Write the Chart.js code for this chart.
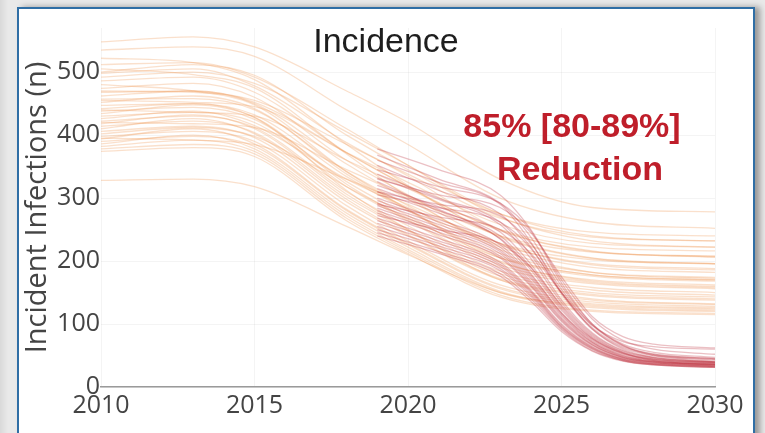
<!DOCTYPE html>
<html>
<head>
<meta charset="utf-8">
<script src="https://cdn.jsdelivr.net/npm/chart.js@4"></script>
<style>
  html, body { margin: 0; padding: 0; }
  body {
    width: 765px; height: 433px; overflow: hidden; position: relative;
    background: linear-gradient(to right, #d9d9d9 0px, #e9e9e9 8px, #e9e9e9 100%);
  }
  #panel {
    position: absolute; left: 17px; top: 7px; width: 734px; height: 440px;
    background: #fff; border: 2px solid #2f6ea5;
    box-shadow: 5px 0 6px rgba(0, 0, 0, 0.35);
  }
  #chart { position: absolute; left: 0; top: 0; }
</style>
</head>
<body>
<div id="panel"></div>
<canvas id="chart" width="765" height="433"></canvas>
<script>
// baseline runs: incidence per year, sampled at these years
const baselineYears = [2010, 2013, 2015, 2018, 2020, 2023, 2026, 2030]
const baselineRuns = [
  [548, 556, 540, 470, 420, 330, 285, 278],
  [535, 540, 525, 440, 385, 300, 262, 252],
  [522, 515, 488, 385, 320, 240, 205, 196],
  [512, 515, 492, 410, 352, 270, 232, 222],
  [505, 496, 475, 370, 302, 218, 182, 172],
  [498, 505, 478, 388, 335, 250, 216, 206],
  [492, 500, 482, 405, 352, 275, 240, 232],
  [486, 492, 468, 372, 318, 238, 204, 195],
  [480, 470, 448, 342, 282, 200, 168, 160],
  [474, 482, 460, 360, 305, 228, 194, 186],
  [468, 470, 450, 354, 298, 222, 190, 182],
  [462, 470, 452, 372, 318, 248, 215, 207],
  [457, 458, 440, 342, 288, 212, 182, 174],
  [452, 462, 442, 338, 282, 208, 178, 170],
  [447, 450, 432, 334, 280, 205, 176, 168],
  [442, 450, 428, 312, 250, 170, 140, 132],
  [438, 444, 425, 326, 272, 198, 170, 162],
  [434, 448, 428, 322, 266, 194, 166, 158],
  [430, 436, 420, 318, 264, 190, 164, 156],
  [426, 438, 415, 330, 285, 225, 196, 188],
  [422, 430, 412, 310, 256, 184, 158, 150],
  [418, 432, 410, 306, 250, 180, 154, 146],
  [414, 422, 404, 302, 248, 176, 150, 143],
  [410, 426, 402, 298, 242, 172, 147, 140],
  [406, 414, 396, 294, 240, 170, 145, 138],
  [402, 412, 398, 318, 268, 205, 178, 170],
  [398, 406, 390, 288, 232, 162, 138, 131],
  [394, 410, 386, 282, 228, 158, 135, 128],
  [390, 398, 382, 280, 226, 156, 132, 126],
  [386, 400, 378, 276, 222, 152, 128, 122],
  [382, 392, 374, 272, 218, 150, 126, 120],
  [378, 385, 370, 268, 215, 146, 122, 117],
  [374, 380, 366, 264, 212, 143, 120, 115],
  [328, 330, 318, 255, 210, 150, 130, 124],
  [470, 468, 455, 385, 338, 268, 238, 232],
  [455, 452, 445, 372, 325, 258, 228, 222],
  [440, 436, 430, 360, 315, 250, 222, 216],
  [420, 418, 412, 345, 302, 240, 214, 208],
  [500, 512, 495, 400, 345, 275, 246, 240],
  [395, 392, 385, 330, 290, 228, 202, 196]
]

// intervention runs, starting in 2019
const interventionYears = [2019, 2021, 2023, 2024, 2025, 2026, 2027, 2028, 2030]
const interventionRuns = [
  [378, 345, 305, 250, 170, 108, 74, 60, 52],
  [368, 330, 292, 238, 160, 100, 68, 55, 47],
  [360, 325, 290, 230, 150, 94, 64, 52, 45],
  [352, 312, 275, 222, 148, 92, 62, 50, 44],
  [345, 318, 292, 248, 165, 100, 66, 50, 43],
  [338, 300, 262, 210, 138, 86, 58, 47, 41],
  [332, 298, 258, 204, 134, 84, 57, 46, 40],
  [326, 282, 235, 180, 118, 76, 53, 44, 39],
  [320, 286, 246, 195, 128, 80, 55, 45, 39],
  [315, 280, 240, 190, 125, 78, 54, 44, 39],
  [310, 276, 236, 186, 122, 77, 53, 43, 38],
  [305, 285, 262, 220, 150, 92, 60, 47, 40],
  [300, 266, 226, 178, 117, 74, 51, 42, 37],
  [296, 262, 222, 175, 115, 72, 50, 41, 37],
  [292, 258, 218, 172, 113, 71, 49, 41, 36],
  [288, 254, 215, 168, 110, 70, 48, 40, 36],
  [284, 250, 212, 165, 108, 68, 47, 40, 35],
  [280, 246, 208, 162, 106, 67, 47, 39, 35],
  [276, 242, 205, 160, 104, 66, 46, 39, 34],
  [272, 250, 228, 190, 130, 82, 55, 42, 36],
  [268, 236, 198, 154, 100, 64, 45, 38, 34],
  [264, 232, 195, 152, 98, 63, 44, 37, 33],
  [260, 228, 192, 150, 96, 62, 44, 37, 33],
  [255, 224, 188, 147, 95, 61, 43, 36, 32],
  [250, 220, 185, 144, 93, 60, 42, 36, 32],
  [245, 215, 180, 140, 91, 58, 42, 35, 31],
  [240, 212, 176, 136, 88, 57, 41, 35, 31],
  [330, 305, 285, 245, 175, 112, 80, 68, 62],
  [290, 270, 250, 212, 150, 98, 72, 64, 60],
  [310, 290, 272, 228, 155, 98, 66, 52, 45]
]

const yTicks = [0, 100, 200, 300, 400, 500]
const xTicks = [2010, 2015, 2020, 2025, 2030]

const tickFont = { family: '"Open Sans", sans-serif', size: 25 }
const gridColor = 'rgba(0, 0, 0, 0.045)'

const toPoints = (years, values) => years.map((x, i) => ({ x, y: values[i] }))

const baseline = baselineRuns.map(run => ({
  data: toPoints(baselineYears, run),
  borderColor: 'rgba(238, 160, 95, 0.32)',
  borderWidth: 1.3,
  order: 1
}))

const intervention = interventionRuns.map(run => ({
  data: toPoints(interventionYears, run),
  borderColor: 'rgba(188, 45, 60, 0.3)',
  borderWidth: 1.3,
  order: 0
}))

// headline and result label
const panelText = {
  id: 'panelText',
  afterDraw(chart) {
    const { ctx } = chart
    ctx.save()
    ctx.textAlign = 'center'
    ctx.textBaseline = 'alphabetic'
    ctx.fillStyle = '#1e1e1e'
    ctx.font = '34px "Liberation Sans", Arial, sans-serif'
    ctx.fillText('Incidence', 386, 52)
    ctx.fillStyle = '#bf1e2a'
    ctx.font = 'bold 34px "Liberation Sans", Arial, sans-serif'
    ctx.fillText('85% [80-89%]', 572, 137)
    ctx.fillText('Reduction', 580, 180)
    ctx.restore()
  }
}

new Chart(document.getElementById('chart'), {
  type: 'line',
  data: { datasets: [...intervention, ...baseline] },
  options: {
    responsive: false,
    animation: false,
    devicePixelRatio: 1,
    layout: { padding: { top: 28, right: 50, bottom: 0, left: 0 } },
    elements: {
      point: { radius: 0 },
      line: { cubicInterpolationMode: 'monotone', fill: false }
    },
    plugins: { legend: { display: false }, tooltip: { enabled: false } },
    scales: {
      x: {
        type: 'linear',
        min: 2010,
        max: 2030,
        afterBuildTicks: scale => { scale.ticks = xTicks.map(value => ({ value })) },
        ticks: { font: tickFont, color: '#444', padding: 4, callback: v => String(v) },
        grid: { color: gridColor, drawTicks: false },
        border: { color: '#9a9a9a', width: 1.5 },
        afterFit: scale => {
          scale.height = 46
          scale.paddingLeft = 0
          scale.paddingRight = 0
        }
      },
      y: {
        min: 0,
        max: 570,
        afterBuildTicks: scale => { scale.ticks = yTicks.map(value => ({ value })) },
        ticks: { font: tickFont, color: '#444', padding: 1 },
        grid: { color: gridColor, drawTicks: false },
        border: { display: false },
        title: {
          display: true,
          text: 'Incident Infections (n)',
          color: '#444',
          font: { family: '"Open Sans", sans-serif', size: 29 },
          padding: { top: 20, bottom: 0 }
        },
        afterFit: scale => {
          scale.width = 101
          scale.paddingTop = 0
          scale.paddingBottom = 0
        }
      }
    }
  },
  plugins: [panelText]
})
</script>
</body>
</html>
